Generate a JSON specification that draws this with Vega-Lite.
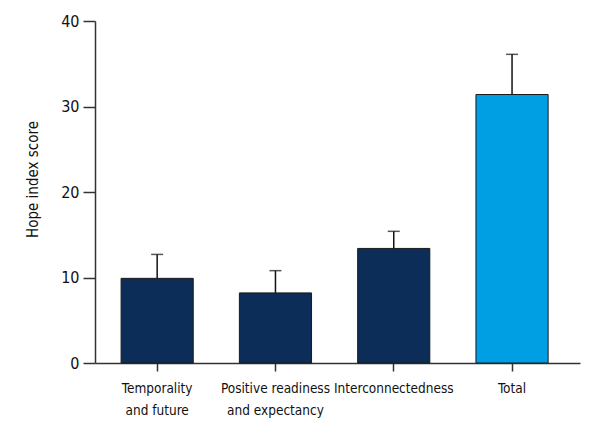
{
  "$schema": "https://vega.github.io/schema/vega-lite/v6.json",
  "width": 485,
  "height": 342,
  "autosize": {"type": "none"},
  "padding": {"left": 95, "top": 21, "right": 20, "bottom": 77},
  "background": "white",
  "config": {
    "view": {"stroke": null},
    "font": "DejaVu Sans Condensed",
    "axis": {
      "grid": false,
      "domainColor": "#333333",
      "tickColor": "#333333",
      "domainWidth": 1.5,
      "tickWidth": 1.5,
      "labelColor": "#111111",
      "titleColor": "#111111",
      "labelFont": "DejaVu Sans Condensed",
      "titleFont": "DejaVu Sans Condensed"
    }
  },
  "data": {
    "values": [
      {"category": "Temporality and future", "mean": 9.9, "upper": 12.7, "group": "subscale"},
      {"category": "Positive readiness and expectancy", "mean": 8.2, "upper": 10.8, "group": "subscale"},
      {"category": "Interconnectedness", "mean": 13.4, "upper": 15.4, "group": "subscale"},
      {"category": "Total", "mean": 31.4, "upper": 36.1, "group": "total"}
    ]
  },
  "encoding": {
    "x": {
      "field": "category",
      "type": "nominal",
      "sort": null,
      "scale": {"paddingInner": 0.39, "paddingOuter": 0.245, "align": 0.45},
      "axis": {
        "title": null,
        "labelAngle": 0,
        "tickSize": 8,
        "labelPadding": 10,
        "labelFontSize": 13.5,
        "labelLineHeight": 22,
        "labelLimit": 200,
        "labelExpr": "datum.value == 'Temporality and future' ? ['Temporality', 'and future'] : datum.value == 'Positive readiness and expectancy' ? ['Positive readiness', 'and expectancy'] : datum.value"
      }
    }
  },
  "layer": [
    {
      "mark": {"type": "bar", "stroke": "#1a1a1a", "strokeWidth": 1},
      "encoding": {
        "y": {
          "field": "mean",
          "type": "quantitative",
          "scale": {"domain": [0, 40], "nice": false},
          "axis": {
            "title": "Hope index score",
            "titleFontSize": 15,
            "titleFontWeight": "normal",
            "titlePadding": 20,
            "titleY": 158,
            "values": [0, 10, 20, 30, 40],
            "tickSize": 12,
            "labelFontSize": 16,
            "labelPadding": 4
          }
        },
        "color": {
          "field": "group",
          "type": "nominal",
          "scale": {"domain": ["subscale", "total"], "range": ["#0b2d57", "#009fe3"]},
          "legend": null
        }
      }
    },
    {
      "mark": {"type": "rule", "color": "#111111", "strokeWidth": 1.5},
      "encoding": {
        "y": {"field": "mean", "type": "quantitative"},
        "y2": {"field": "upper"}
      }
    },
    {
      "mark": {"type": "tick", "color": "#111111", "size": 12, "thickness": 1.5},
      "encoding": {
        "y": {"field": "upper", "type": "quantitative"}
      }
    }
  ]
}
